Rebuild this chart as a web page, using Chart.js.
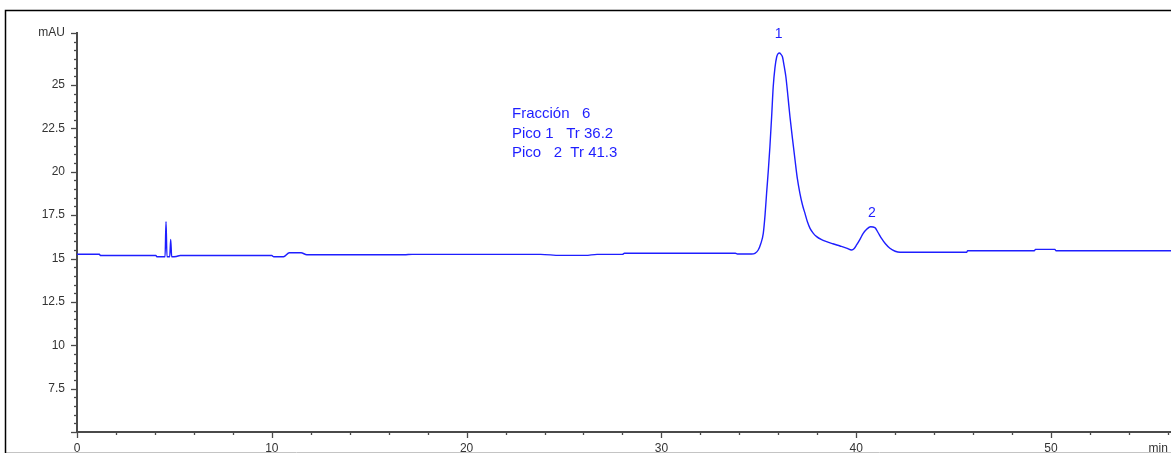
<!DOCTYPE html>
<html>
<head>
<meta charset="utf-8">
<script src="https://cdn.jsdelivr.net/npm/chart.js@4/dist/chart.umd.min.js"></script>
<style>
  html, body { margin: 0; padding: 0; background: #fff; }
  #wrap { width: 1171px; height: 453px; }
</style>
</head>
<body>
<div id="wrap"><canvas id="chroma" width="1171" height="453"></canvas></div>
<script>
// retention time (min) and absorbance (mAU)
var times = [0, 1.15, 1.2, 4.05, 4.1, 4.52, 4.57, 4.62, 4.76, 4.81, 4.86, 5.1, 5.3,
	10.0, 10.1, 10.6, 10.9, 11.5, 11.8, 16.8, 17.2, 23.8, 24.8, 26.1, 26.7, 28.0, 28.1,
	33.8, 33.9, 34.63, 34.8, 34.97, 35.1, 35.23, 35.32, 35.4, 35.49, 35.57, 35.66, 35.74,
	35.83, 35.92, 36.0, 36.06, 36.13, 36.22, 36.3, 36.39, 36.5, 36.6, 36.73, 36.86, 36.98,
	37.11, 37.24, 37.37, 37.5, 37.63, 37.8, 37.97, 38.2, 38.48, 38.8, 39.17, 39.5, 39.77,
	39.9, 40.02, 40.2, 40.36, 40.55, 40.74, 40.96, 41.12, 41.3, 41.5, 41.73, 42.0, 42.25,
	45.67, 45.72, 49.15, 49.2, 50.2, 50.25, 56.2];
var mAU = [15.25, 15.25, 15.17, 15.17, 15.1, 15.1, 17.12, 15.1, 15.1, 16.1, 15.1, 15.12, 15.17,
	15.17, 15.1, 15.1, 15.33, 15.33, 15.22, 15.22, 15.24, 15.24, 15.18, 15.18, 15.24, 15.24, 15.3,
	15.3, 15.26, 15.26, 15.3, 15.49, 15.85, 16.45, 17.5, 18.76, 20.1, 21.44, 23.2, 24.9,
	26.0, 26.63, 26.82, 26.85, 26.78, 26.6, 26.1, 25.48, 24.3, 23.17, 21.9, 20.68, 19.6,
	18.76, 18.1, 17.6, 17.1, 16.74, 16.45, 16.26, 16.1, 15.97, 15.85, 15.72, 15.6, 15.49,
	15.58, 15.78, 16.12, 16.45, 16.7, 16.83, 16.78, 16.5, 16.16, 15.85, 15.59, 15.42, 15.36,
	15.36, 15.45, 15.45, 15.53, 15.53, 15.45, 15.45];

var xTickLabels = ['0', '10', '20', '30', '40', '50'];
var yTickLabels = ['7.5', '10', '12.5', '15', '17.5', '20', '22.5', '25'];
var yUnit = 'mAU';
var xUnit = 'min';

var peakNames = ['1', '2'];
var peakTimes = [36.02, 40.8];
var peakHeights = [26.85, 16.83];

var noteLines = ['Fracción   6', 'Pico 1   Tr 36.2', 'Pico   2  Tr 41.3'];

var points = [];
for (var i = 0; i < times.length; i++) {
	points.push({ x: times[i], y: mAU[i] });
}

var BLUE = 'rgb(30,30,255)';
var AXIS = '#4a4a4a';

function noPad(scale) {
	scale.paddingLeft = 0;
	scale.paddingRight = 0;
	scale.paddingTop = 0;
	scale.paddingBottom = 0;
}

// frame, small/large tick marks, peak numbers and the note
var extras = {
	id: 'extras',
	beforeDraw: function (chart) {
		var c = chart.ctx;
		c.save();
		c.strokeStyle = '#c4c4c4';
		c.lineWidth = 1;
		c.beginPath();
		c.moveTo(5, 452.5);
		c.lineTo(1171, 452.5);
		c.stroke();
		c.strokeStyle = '#000';
		c.lineWidth = 1.5;
		c.beginPath();
		c.moveTo(1171, 10.5);
		c.lineTo(5.5, 10.5);
		c.lineTo(5.5, 453);
		c.stroke();
		c.restore();
	},
	afterDraw: function (chart) {
		var c = chart.ctx;
		var xs = chart.scales.x, ys = chart.scales.y;
		var area = chart.chartArea;
		c.save();
		c.strokeStyle = AXIS;
		c.lineWidth = 1.3;
		xs.ticks.forEach(function (t) {
			if (Math.abs(t.value % 2) > 1e-6) return;
			var px = Math.round(xs.getPixelForValue(t.value)) + 0.5;
			var len = (t.value % 10 === 0) ? 6 : 3;
			c.beginPath();
			c.moveTo(px, area.bottom);
			c.lineTo(px, area.bottom + len);
			c.stroke();
		});
		ys.ticks.forEach(function (t) {
			var py = Math.round(ys.getPixelForValue(t.value)) + 0.5;
			var big = (t.value % 2.5 === 0 && t.value !== 27.5) || t.value === ys.max;
			c.beginPath();
			c.moveTo(area.left, py);
			c.lineTo(area.left - (big ? 6 : 3), py);
			c.stroke();
		});

		c.fillStyle = BLUE;
		c.textAlign = 'center';
		c.textBaseline = 'alphabetic';
		c.font = '14px "Liberation Sans", Arial, sans-serif';
		var lift = [15, 10];
		for (var i = 0; i < peakNames.length; i++) {
			c.fillText(peakNames[i], xs.getPixelForValue(peakTimes[i]),
				ys.getPixelForValue(peakHeights[i]) - lift[i]);
		}

		c.textAlign = 'left';
		c.font = '15px "Liberation Sans", Arial, sans-serif';
		for (var j = 0; j < noteLines.length; j++) {
			c.fillText(noteLines[j], 512, 118 + j * 19.5);
		}
		c.restore();
	}
};

new Chart(document.getElementById('chroma'), {
	type: 'line',
	data: {
		datasets: [{
			data: points,
			borderColor: BLUE,
			borderWidth: 1.4,
			pointRadius: 0,
			cubicInterpolationMode: 'monotone',
			fill: false
		}]
	},
	options: {
		responsive: false,
		animation: false,
		devicePixelRatio: 1,
		layout: { padding: { left: 0, top: 33, right: 0, bottom: 0 } },
		plugins: { legend: { display: false }, tooltip: { enabled: false } },
		scales: {
			x: {
				type: 'linear',
				min: 0,
				max: 56.16,
				grid: { display: false, drawTicks: false },
				border: { display: true, color: AXIS, width: 2 },
				afterBuildTicks: function (scale) {
					var list = [];
					for (var v = 0; v <= 56; v += 2) list.push({ value: v });
					list.splice(list.length - 1, 0, { value: 55.5 });
					scale.ticks = list;
				},
				afterFit: function (scale) {
					noPad(scale);
					scale.height = 21;
				},
				ticks: {
					autoSkip: false,
					maxRotation: 0,
					padding: 9,
					color: '#333',
					font: { family: '"Liberation Sans", Arial, sans-serif', size: 12 },
					callback: function (v) {
						if (v === 55.5) return xUnit;
						var s = String(v);
						return xTickLabels.indexOf(s) >= 0 ? s : '';
					}
				}
			},
			y: {
				type: 'linear',
				min: 5,
				max: 28,
				grid: { display: false, drawTicks: false },
				border: { display: true, color: AXIS, width: 2 },
				afterBuildTicks: function (scale) {
					var list = [];
					for (var v = 5; v <= 28; v += 0.5) list.push({ value: v });
					scale.ticks = list;
				},
				afterFit: function (scale) {
					noPad(scale);
					scale.width = 77;
				},
				ticks: {
					autoSkip: false,
					padding: 12,
					color: '#333',
					font: { family: '"Liberation Sans", Arial, sans-serif', size: 12 },
					callback: function (v) {
						if (v === 28) return yUnit;
						var s = String(v);
						return yTickLabels.indexOf(s) >= 0 ? s : '';
					}
				}
			}
		}
	},
	plugins: [extras]
});
</script>
</body>
</html>
